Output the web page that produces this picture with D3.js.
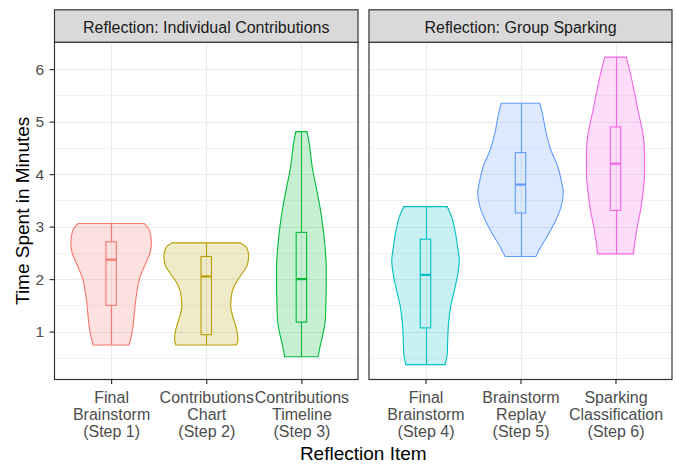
<!DOCTYPE html>
<html>
<head>
<meta charset="utf-8">
<script src="https://cdn.jsdelivr.net/npm/d3@7"></script>
<style>
  html, body { margin: 0; padding: 0; background: #fff; }
  svg { display: block; font-family: "Liberation Sans", Arial, sans-serif; }
</style>
</head>
<body>
<svg id="chart" width="676" height="466"></svg>
<script>
// Facet titles
const facets = ["Reflection: Individual Contributions", "Reflection: Group Sparking"];

// Reflection items (tick labels are split into lines)
const items = [
  ["Final", "Brainstorm", "(Step 1)"],
  ["Contributions", "Chart", "(Step 2)"],
  ["Contributions", "Timeline", "(Step 3)"],
  ["Final", "Brainstorm", "(Step 4)"],
  ["Brainstorm", "Replay", "(Step 5)"],
  ["Sparking", "Classification", "(Step 6)"]
];
const itemFacet = [0, 0, 0, 1, 1, 1];
const itemColors = ["#F8766D", "#B79F00", "#00BA38", "#00BFC4", "#619CFF", "#F564E3"];

// Boxplot summaries (minutes)
const mins    = [0.745, 0.745, 0.52, 0.37, 2.43, 2.48];
const q1s     = [1.50, 0.94, 1.18, 1.07, 3.26, 3.31];
const medians = [2.37, 2.05, 2.00, 2.08, 3.80, 4.20];
const q3s     = [2.71, 2.43, 2.89, 2.76, 4.41, 4.90];
const maxs    = [3.06, 2.69, 4.81, 3.38, 5.35, 6.23];

// Violin density profiles: [minutes, relative density]
const densStep1 = [[3.06,0.77],[2.92,0.90],[2.70,0.94],[2.50,0.91],[2.25,0.78],[2.00,0.66],[1.74,0.60],[1.49,0.56],[1.23,0.53],[0.98,0.49],[0.745,0.42]];
const densStep2 = [[2.69,0.80],[2.60,0.94],[2.44,0.99],[2.25,0.95],[2.12,0.85],[1.93,0.69],[1.74,0.60],[1.49,0.57],[1.23,0.64],[1.04,0.71],[0.85,0.74],[0.745,0.71]];
const densStep3 = [[4.81,0.13],[4.60,0.18],[4.15,0.25],[3.77,0.34],[3.39,0.43],[3.01,0.50],[2.63,0.55],[2.25,0.58],[1.87,0.58],[1.49,0.57],[1.23,0.56],[0.98,0.51],[0.73,0.44],[0.52,0.39]];
const densStep4 = [[3.38,0.51],[3.19,0.61],[2.88,0.70],[2.62,0.75],[2.34,0.79],[2.12,0.76],[1.80,0.68],[1.48,0.59],[1.16,0.54],[0.85,0.52],[0.59,0.51],[0.37,0.46]];
const densStep5 = [[5.35,0.45],[5.16,0.51],[4.78,0.60],[4.46,0.71],[4.15,0.87],[3.89,0.95],[3.64,1.00],[3.38,0.95],[3.13,0.83],[2.88,0.67],[2.62,0.48],[2.43,0.36]];
const densStep6 = [[6.23,0.25],[6.05,0.31],[5.61,0.43],[5.16,0.54],[4.78,0.64],[4.40,0.68],[4.02,0.68],[3.70,0.65],[3.38,0.60],[3.00,0.51],[2.69,0.45],[2.48,0.42]];
const densities = [densStep1, densStep2, densStep3, densStep4, densStep5, densStep6];

const yTicks = [1, 2, 3, 4, 5, 6];
const yMinor = [0.5, 1.5, 2.5, 3.5, 4.5, 5.5];

// ---- layout ----
const svg = d3.select("#chart");
const panelTop = 41.7, panelBottom = 380, stripTop = 9.3;
const panelX = [[54, 358.5], [368.5, 672.5]];

const y = d3.scaleLinear().domain([0.077, 6.523]).range([panelBottom, panelTop]);

const grid = "#EBEBEB", border = "#333333";

facets.forEach((title, f) => {
  const [x0, x1] = panelX[f];
  const idx = d3.range(items.length).filter(i => itemFacet[i] === f);
  const x = d3.scalePoint().domain(idx).range([x0, x1]).padding(0.6);
  const step = x.step();
  const w = d3.scaleLinear().domain([0, 1]).range([0, 0.45 * step]);

  const g = svg.append("g");

  // panel background
  g.append("rect").attr("x", x0).attr("y", panelTop)
    .attr("width", x1 - x0).attr("height", panelBottom - panelTop).attr("fill", "#fff");

  // grid lines
  g.selectAll(".ymin").data(yMinor).join("line")
    .attr("x1", x0).attr("x2", x1)
    .attr("y1", d => Math.round(y(d)) + 0.5).attr("y2", d => Math.round(y(d)) + 0.5)
    .attr("stroke", "#F2F2F2").attr("stroke-width", 1);
  g.selectAll(".ymaj").data(yTicks).join("line")
    .attr("x1", x0).attr("x2", x1)
    .attr("y1", d => Math.round(y(d)) + 0.5).attr("y2", d => Math.round(y(d)) + 0.5)
    .attr("stroke", grid).attr("stroke-width", 1.2);
  g.selectAll(".xmaj").data(idx).join("line")
    .attr("x1", d => Math.round(x(d)) + 0.5).attr("x2", d => Math.round(x(d)) + 0.5)
    .attr("y1", panelTop).attr("y2", panelBottom)
    .attr("stroke", grid).attr("stroke-width", 1.2);

  // violins
  idx.forEach(i => {
    const cx = x(i);
    const col = itemColors[i];
    const area = d3.area()
      .y(d => y(d[0]))
      .x0(d => cx - w(d[1]))
      .x1(d => cx + w(d[1]))
      .curve(d3.curveMonotoneY);
    const prof = densities[i].slice().sort((a, b) => a[0] - b[0]);
    g.append("path").attr("d", area(prof))
      .attr("fill", col).attr("fill-opacity", 0.22)
      .attr("stroke", col).attr("stroke-width", 1.1);

    // boxplot
    const bw = 0.11 * step;
    const lx = Math.round(cx) + 0.5;
    g.append("line").attr("x1", lx).attr("x2", lx)
      .attr("y1", y(maxs[i])).attr("y2", y(q3s[i]))
      .attr("stroke", col).attr("stroke-width", 1.1);
    g.append("line").attr("x1", lx).attr("x2", lx)
      .attr("y1", y(q1s[i])).attr("y2", y(mins[i]))
      .attr("stroke", col).attr("stroke-width", 1.1);
    g.append("rect")
      .attr("x", cx - bw / 2).attr("y", y(q3s[i]))
      .attr("width", bw).attr("height", y(q1s[i]) - y(q3s[i]))
      .attr("fill", "none").attr("stroke", col).attr("stroke-width", 1.1);
    g.append("line")
      .attr("x1", cx - bw / 2).attr("x2", cx + bw / 2)
      .attr("y1", y(medians[i])).attr("y2", y(medians[i]))
      .attr("stroke", col).attr("stroke-width", 2.2);
  });

  // panel border
  g.append("rect").attr("x", x0 + 0.5).attr("y", panelTop + 0.5)
    .attr("width", x1 - x0 - 1).attr("height", panelBottom - panelTop - 1)
    .attr("fill", "none").attr("stroke", border).attr("stroke-width", 1.2);

  // strip
  g.append("rect").attr("x", x0 + 0.5).attr("y", stripTop + 0.5)
    .attr("width", x1 - x0 - 1).attr("height", panelTop - stripTop)
    .attr("fill", "#D9D9D9").attr("stroke", border).attr("stroke-width", 1.2);
  g.append("text").attr("x", (x0 + x1) / 2).attr("y", 32.5)
    .attr("text-anchor", "middle").attr("font-size", 16).attr("fill", "#1A1A1A")
    .text(title);

  // x axis
  const xAxis = d3.axisBottom(x).tickSize(4).tickFormat(() => "");
  const ax = g.append("g").attr("transform", `translate(0,${panelBottom})`).call(xAxis);
  ax.select(".domain").remove();
  ax.selectAll(".tick line").attr("stroke", border).attr("stroke-width", 1.2);
  ax.selectAll(".tick").each(function (i) {
    const t = d3.select(this).append("text")
      .attr("fill", "#4D4D4D").attr("font-size", 16).attr("text-anchor", "middle")
      .attr("font-family", "Liberation Sans, Arial, sans-serif");
    items[i].forEach((line, k) => {
      t.append("tspan").attr("x", 0).attr("y", 23.3 + k * 16.7).text(line);
    });
  });

  // y axis on first panel
  if (f === 0) {
    const yAxis = d3.axisLeft(y).tickValues(yTicks).tickFormat(d3.format("d"))
      .tickSize(4.5).tickPadding(5.5);
    const ay = g.append("g").attr("transform", `translate(${x0},0)`).call(yAxis);
    ay.select(".domain").remove();
    ay.selectAll(".tick line").attr("stroke", border).attr("stroke-width", 1.2);
    ay.selectAll(".tick text").attr("fill", "#4D4D4D").attr("font-size", 15.5)
      .attr("font-family", "Liberation Sans, Arial, sans-serif");
  }
});

// axis titles
svg.append("text")
  .attr("x", (panelX[0][0] + panelX[1][1]) / 2).attr("y", 460)
  .attr("text-anchor", "middle").attr("font-size", 19).attr("fill", "#000")
  .text("Reflection Item");
svg.append("text")
  .attr("transform", `translate(28.5,${(panelTop + panelBottom) / 2}) rotate(-90)`)
  .attr("text-anchor", "middle").attr("font-size", 19).attr("fill", "#000")
  .text("Time Spent in Minutes");
</script>
</body>
</html>
